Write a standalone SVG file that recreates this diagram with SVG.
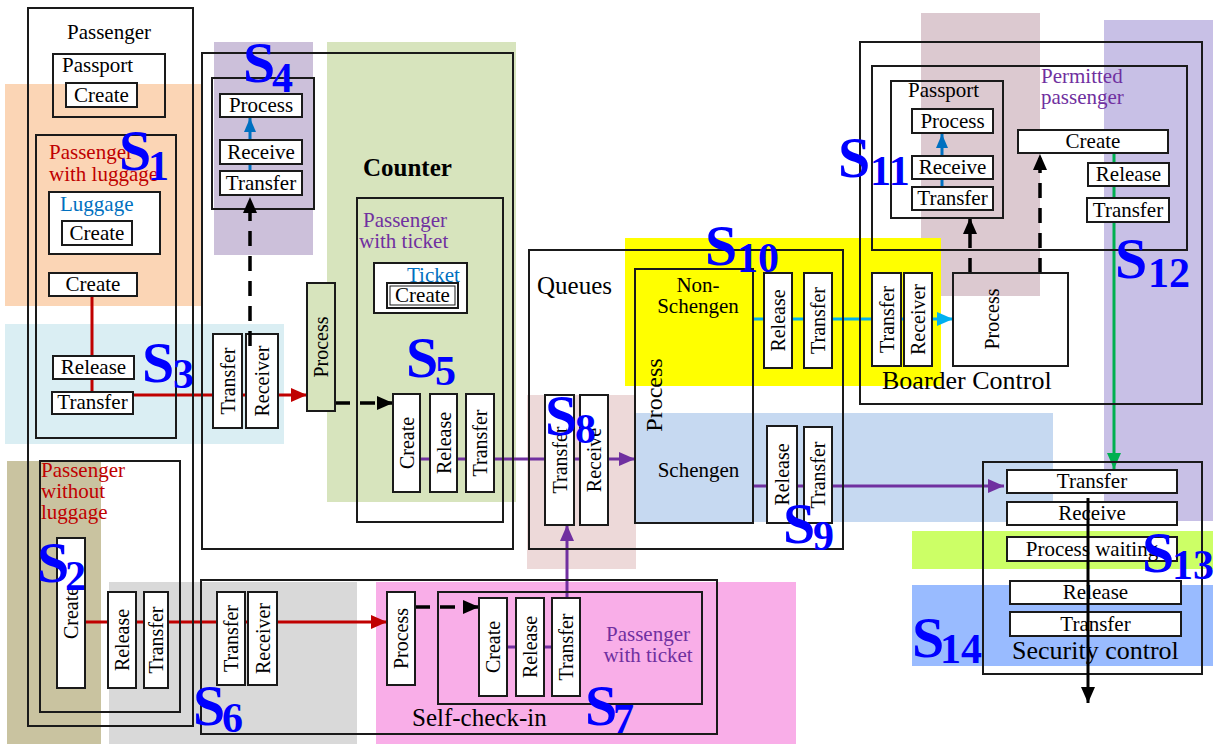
<svg xmlns="http://www.w3.org/2000/svg" width="1213" height="744" viewBox="0 0 1213 744">
<style>
.b{fill:none;stroke:#1a1a1a;stroke-width:2}
.w{fill:#fff;stroke:#1a1a1a;stroke-width:2}
.t{font-family:"Liberation Serif","Times New Roman",serif;font-size:21px;fill:#000}
.c{text-anchor:middle}
.v{font-size:20px;text-anchor:middle}
.red{fill:#C00000}
.pur{fill:#7030A0}
.blu{fill:#0070C0}
.s{font-family:"Liberation Serif","Times New Roman",serif;font-weight:bold;font-size:58px;fill:#0000FF}
.sub{font-size:42px}
.lr{stroke:#C00000;stroke-width:3;fill:none}
.lp{stroke:#7030A0;stroke-width:3;fill:none}
.lb{stroke:#0070C0;stroke-width:3;fill:none}
.lc{stroke:#00B0F0;stroke-width:3;fill:none}
.lg{stroke:#00B050;stroke-width:3;fill:none}
.ld{stroke:#000;stroke-width:3.5;stroke-dasharray:15 10;fill:none}
.lk{stroke:#000;stroke-width:3;fill:none}
</style>
<defs>
<marker id="mRed" viewBox="0 0 16 14" refX="16" refY="7" markerWidth="16" markerHeight="14" markerUnits="userSpaceOnUse" orient="auto"><path d="M0,0L16,7L0,14z" fill="#C00000"/></marker>
<marker id="mPur" viewBox="0 0 16 14" refX="16" refY="7" markerWidth="16" markerHeight="14" markerUnits="userSpaceOnUse" orient="auto"><path d="M0,0L16,7L0,14z" fill="#7030A0"/></marker>
<marker id="mBlue" viewBox="0 0 14 12" refX="14" refY="6" markerWidth="14" markerHeight="12" markerUnits="userSpaceOnUse" orient="auto"><path d="M0,0L14,6L0,12z" fill="#0070C0"/></marker>
<marker id="mCyan" viewBox="0 0 16 14" refX="16" refY="7" markerWidth="16" markerHeight="14" markerUnits="userSpaceOnUse" orient="auto"><path d="M0,0L16,7L0,14z" fill="#00B0F0"/></marker>
<marker id="mGreen" viewBox="0 0 16 14" refX="16" refY="7" markerWidth="16" markerHeight="14" markerUnits="userSpaceOnUse" orient="auto"><path d="M0,0L16,7L0,14z" fill="#00B050"/></marker>
<marker id="mBlack" viewBox="0 0 16 14" refX="16" refY="7" markerWidth="16" markerHeight="14" markerUnits="userSpaceOnUse" orient="auto"><path d="M0,0L16,7L0,14z" fill="#000"/></marker>
</defs>
<rect width="1213" height="744" fill="#fff"/>
<g id="regions">
<rect x="5" y="84" width="198" height="222" fill="#FBD5B5"/>
<rect x="5" y="324" width="279" height="120" fill="#DAEEF3"/>
<rect x="214" y="42" width="99" height="213" fill="#CCC0DA"/>
<rect x="327" y="42" width="189" height="460" fill="#D7E4BD"/>
<rect x="7" y="461" width="94" height="283" fill="#C9C3A0"/>
<rect x="109" y="582" width="248" height="162" fill="#D9D9D9"/>
<rect x="376" y="582" width="420" height="162" fill="#F9AEE8"/>
<rect x="527" y="395" width="109" height="174" fill="#EDD9D9"/>
<rect x="636" y="413" width="417" height="109" fill="#C6D9F1"/>
<rect x="921" y="13" width="119" height="283" fill="#DCC9D0"/>
<rect x="625" y="238" width="316" height="148" fill="#FFFF00"/>
<rect x="1104" y="20" width="109" height="501" fill="#C8C0E6"/>
<rect x="912" y="531" width="301" height="38" fill="#CCFF66"/>
<rect x="912" y="585" width="301" height="81" fill="#99BBFF"/>
</g>
<g id="connectors">
<line class="lr" x1="92" y1="296" x2="92" y2="392"/>
<line class="lr" x1="133" y1="395" x2="307" y2="395" marker-end="url(#mRed)"/>
<line class="lr" x1="85" y1="622" x2="387" y2="622" marker-end="url(#mRed)"/>
<line class="lb" x1="250" y1="171" x2="250" y2="118" marker-end="url(#mBlue)"/>
<line class="lb" x1="942" y1="187" x2="942" y2="134" marker-end="url(#mBlue)"/>
<line class="lp" x1="420" y1="459" x2="635" y2="459" marker-end="url(#mPur)"/>
<line class="lp" x1="507" y1="647" x2="552" y2="647"/>
<line class="lp" x1="567" y1="598" x2="567" y2="525" marker-end="url(#mPur)"/>
<line class="lp" x1="753" y1="486" x2="1004" y2="486" marker-end="url(#mPur)"/>
<line class="lc" x1="753" y1="319" x2="953" y2="319" marker-end="url(#mCyan)"/>
<line class="lg" x1="1114" y1="153" x2="1114" y2="469" marker-end="url(#mGreen)"/>
<line class="ld" x1="335" y1="403" x2="393" y2="403" marker-end="url(#mBlack)"/>
<line class="ld" x1="415" y1="607" x2="479" y2="607" marker-end="url(#mBlack)"/>
<line class="ld" x1="970" y1="273" x2="970" y2="218" marker-end="url(#mBlack)"/>
<line class="ld" x1="1040" y1="273" x2="1040" y2="154" marker-end="url(#mBlack)"/>
</g>
<g id="n-passenger"><rect class="b" x="28" y="8" width="165" height="718"/><text class="t c" x="109" y="39">Passenger</text></g>
<g id="n-passport"><rect class="b" x="53" y="54" width="112" height="63"/><text class="t" x="62" y="72">Passport</text><rect class="w" x="66" y="83" width="71" height="24"/><text class="t c" x="101.5" y="102">Create</text></g>
<g id="n-pwl"><rect class="b" x="36" y="135" width="140" height="303"/><text class="t red" x="49" y="159">Passenger</text><text class="t red" x="49" y="181">with luggage</text></g>
<g id="n-luggage"><rect class="w" x="49" y="192" width="111" height="62"/><text class="t blu" x="60" y="211">Luggage</text><rect class="w" x="62" y="221" width="70" height="24"/><text class="t c" x="97" y="240">Create</text></g>
<g id="n-create1"><rect class="w" x="49" y="273" width="88" height="23"/><text class="t c" x="93" y="291">Create</text></g>
<g id="n-release1"><rect class="w" x="53" y="356" width="81" height="23"/><text class="t c" x="93.5" y="374">Release</text></g>
<g id="n-transfer1"><rect class="w" x="52" y="392" width="81" height="22"/><text class="t c" x="92.5" y="409">Transfer</text></g>
<g id="n-pwol"><rect class="b" x="40" y="461" width="140" height="251"/><text class="t red" x="41" y="477">Passenger</text><text class="t red" x="41" y="498">without</text><text class="t red" x="41" y="519">luggage</text></g>
<g id="n-create2"><rect class="w" x="57" y="538" width="28" height="150"/><text class="t v" transform="translate(71,613) rotate(-90)" dy="7">Create</text></g>
<g id="n-release2"><rect class="w" x="108" y="592" width="28" height="96"/><text class="t v" transform="translate(122,640) rotate(-90)" dy="7">Release</text></g>
<g id="n-transfer2"><rect class="w" x="144" y="592" width="24" height="96"/><text class="t v" transform="translate(156,640) rotate(-90)" dy="7">Transfer</text></g>
<g id="n-s4"><rect class="b" x="212" y="78" width="102" height="131"/><rect class="w" x="220" y="94" width="82" height="23"/><text class="t c" x="261" y="112">Process</text><rect class="w" x="220" y="140" width="82" height="24"/><text class="t c" x="261" y="159">Receive</text><rect class="w" x="220" y="171" width="82" height="24"/><text class="t c" x="261" y="190">Transfer</text></g>
<g id="n-s3-transfer"><rect class="w" x="213" y="334" width="29" height="94"/><text class="t v" transform="translate(227.5,381) rotate(-90)" dy="7">Transfer</text></g>
<g id="n-s3-receiver"><rect class="w" x="246" y="334" width="32" height="94"/><text class="t v" transform="translate(262,381) rotate(-90)" dy="7">Receiver</text></g>
<g id="n-counter"><rect class="b" x="202" y="53" width="311" height="496"/><text class="t" x="363" y="176" style="font-weight:bold;font-size:25px">Counter</text></g>
<g id="n-counter-process"><rect x="307" y="283" width="28" height="128" fill="#D7E4BD" stroke="#1a1a1a" stroke-width="2"/><text class="t v" transform="translate(321,347) rotate(-90)" dy="7">Process</text></g>
<g id="n-pwt"><rect class="b" x="357" y="198" width="146" height="324"/><text class="t pur" x="363" y="227">Passenger</text><text class="t pur" x="359" y="248">with ticket</text></g>
<g id="n-ticket"><rect class="w" x="374" y="263" width="93" height="50"/><text class="t blu" x="407" y="282">Ticket</text><rect class="w" x="387" y="283" width="71" height="25"/><rect class="b" x="390" y="286" width="65" height="19" style="stroke-width:1"/><text class="t c" x="422.5" y="302">Create</text></g>
<g id="n-s5-create"><rect class="w" x="393" y="394" width="27" height="98"/><text class="t v" transform="translate(406.5,443) rotate(-90)" dy="7">Create</text></g>
<g id="n-s5-release"><rect class="w" x="430" y="394" width="27" height="98"/><text class="t v" transform="translate(443.5,443) rotate(-90)" dy="7">Release</text></g>
<g id="n-s5-transfer"><rect class="w" x="466" y="394" width="28" height="98"/><text class="t v" transform="translate(480,443) rotate(-90)" dy="7">Transfer</text></g>
<g id="n-queues"><rect class="b" x="529" y="250" width="314" height="299"/><text class="t" x="537" y="294" style="font-size:25px">Queues</text></g>
<g id="n-s8-transfer"><rect class="w" x="545" y="395" width="29" height="130"/><text class="t v" transform="translate(559.5,460) rotate(-90)" dy="7">Transfer</text></g>
<g id="n-s8-receive"><rect class="w" x="580" y="395" width="28" height="130"/><text class="t v" transform="translate(594,460) rotate(-90)" dy="7">Receive</text></g>
<g id="n-qprocess"><rect class="b" x="635" y="269" width="118" height="254"/><text class="t c" x="698" y="292">Non-</text><text class="t c" x="698" y="313">Schengen</text><text class="t" text-anchor="middle" transform="translate(654,395) rotate(-90)" dy="8" style="font-size:24px">Process</text><text class="t c" x="698.5" y="477">Schengen</text></g>
<g id="n-s10-release"><rect class="w" x="764" y="273" width="28" height="95"/><text class="t v" transform="translate(778,320.5) rotate(-90)" dy="7">Release</text></g>
<g id="n-s10-transfer"><rect class="w" x="804" y="273" width="28" height="95"/><text class="t v" transform="translate(818,320.5) rotate(-90)" dy="7">Transfer</text></g>
<g id="n-s9-release"><rect class="w" x="767" y="426" width="30" height="97"/><text class="t v" transform="translate(782,474.5) rotate(-90)" dy="7">Release</text></g>
<g id="n-s9-transfer"><rect class="w" x="804" y="427" width="28" height="96"/><text class="t v" transform="translate(818,475) rotate(-90)" dy="7">Transfer</text></g>
<g id="n-bc"><rect class="b" x="860" y="42" width="342" height="362"/><rect class="b" x="872" y="66" width="315" height="184"/><text class="t" x="882" y="389" style="font-size:26px">Boarder Control</text></g>
<g id="n-bc-transfer"><rect class="w" x="872" y="273" width="29" height="93"/><text class="t v" transform="translate(886.5,319.5) rotate(-90)" dy="7">Transfer</text></g>
<g id="n-bc-receiver"><rect class="w" x="904" y="273" width="28" height="93"/><text class="t v" transform="translate(918,319.5) rotate(-90)" dy="7">Receiver</text></g>
<g id="n-bc-process"><rect class="b" x="953" y="273" width="115" height="93"/><text class="t v" transform="translate(992,319) rotate(-90)" dy="7">Process</text></g>
<g id="n-s11"><rect class="b" x="891" y="81" width="112" height="137"/><text class="t" x="908" y="97">Passport</text><rect class="w" x="912" y="109" width="81" height="24"/><text class="t c" x="952.5" y="128">Process</text><rect class="w" x="912" y="156" width="81" height="23"/><text class="t c" x="952.5" y="174">Receive</text><rect class="w" x="912" y="187" width="81" height="23"/><text class="t c" x="952.5" y="205">Transfer</text></g>
<g id="n-permitted"><text class="t pur" x="1041" y="83">Permitted</text><text class="t pur" x="1041" y="104">passenger</text><rect class="w" x="1018" y="130" width="150" height="23"/><text class="t c" x="1093" y="148">Create</text><rect class="w" x="1088" y="163" width="81" height="23"/><text class="t c" x="1128.5" y="181">Release</text><rect class="w" x="1087" y="198" width="82" height="24"/><text class="t c" x="1128" y="217">Transfer</text></g>
<g id="n-security"><rect class="b" x="983" y="462" width="219" height="212"/><rect class="w" x="1007" y="470" width="170" height="23"/><text class="t c" x="1092" y="488">Transfer</text><rect class="w" x="1007" y="502" width="170" height="23"/><text class="t c" x="1092" y="520">Receive</text><rect class="w" x="1007" y="537" width="170" height="24"/><text class="t c" x="1092" y="556">Process waiting</text><rect class="w" x="1010" y="581" width="171" height="23"/><text class="t c" x="1095.5" y="599">Release</text><rect class="w" x="1010" y="612" width="171" height="24"/><text class="t c" x="1095.5" y="631">Transfer</text><text class="t" x="1012" y="659" style="font-size:26px">Security control</text></g>
<g id="n-selfcheckin"><rect class="b" x="201" y="580" width="516" height="154"/><text class="t" x="412" y="726" style="font-size:25px">Self-check-in</text></g>
<g id="n-s6-transfer"><rect class="w" x="217" y="592" width="28" height="93"/><text class="t v" transform="translate(231,638.5) rotate(-90)" dy="7">Transfer</text></g>
<g id="n-s6-receiver"><rect class="w" x="248" y="592" width="29" height="93"/><text class="t v" transform="translate(262.5,638.5) rotate(-90)" dy="7">Receiver</text></g>
<g id="n-s7-process"><rect class="w" x="387" y="592" width="28" height="93"/><text class="t v" transform="translate(401,638.5) rotate(-90)" dy="7">Process</text></g>
<g id="n-s7-inner"><rect class="b" x="438" y="592" width="264" height="112"/><text class="t pur c" x="648" y="641">Passenger</text><text class="t pur c" x="648" y="662">with ticket</text></g>
<g id="n-s7-create"><rect class="w" x="479" y="598" width="28" height="98"/><text class="t v" transform="translate(493,647) rotate(-90)" dy="7">Create</text></g>
<g id="n-s7-release"><rect class="w" x="516" y="598" width="28" height="98"/><text class="t v" transform="translate(530,647) rotate(-90)" dy="7">Release</text></g>
<g id="n-s7-transfer"><rect class="w" x="552" y="598" width="28" height="98"/><text class="t v" transform="translate(566,647) rotate(-90)" dy="7">Transfer</text></g>
<g id="connectors-top">
<line class="ld" x1="250" y1="346" x2="250" y2="197" marker-end="url(#mBlack)"/>
<line class="lk" x1="1088" y1="498" x2="1088" y2="703" marker-end="url(#mBlack)"/>
</g>
<g id="stage-labels">
<text class="s" x="119" y="170">S<tspan class="sub" x="148" y="180">1</tspan></text>
<text class="s" x="37" y="582">S<tspan class="sub" x="65" y="590">2</tspan></text>
<text class="s" x="142" y="382">S<tspan class="sub" x="173" y="388">3</tspan></text>
<text class="s" x="243" y="82">S<tspan class="sub" x="272" y="92">4</tspan></text>
<text class="s" x="406" y="377">S<tspan class="sub" x="435" y="385">5</tspan></text>
<text class="s" x="193" y="725">S<tspan class="sub" x="222" y="732">6</tspan></text>
<text class="s" x="585" y="725">S<tspan class="sub" x="613" y="733">7</tspan></text>
<text class="s" x="545" y="435">S<tspan class="sub" x="575" y="443">8</tspan></text>
<text class="s" x="783" y="543">S<tspan class="sub" x="813" y="550">9</tspan></text>
<text class="s" x="705" y="265">S<tspan class="sub" x="737" y="272">10</tspan></text>
<text class="s" x="838" y="177">S<tspan class="sub" x="870" y="185">11</tspan></text>
<text class="s" x="1115" y="278">S<tspan class="sub" x="1148" y="287">12</tspan></text>
<text class="s" x="1142" y="572">S<tspan class="sub" x="1172" y="579">13</tspan></text>
<text class="s" x="912" y="657">S<tspan class="sub" x="940" y="663">14</tspan></text>
</g>
</svg>
